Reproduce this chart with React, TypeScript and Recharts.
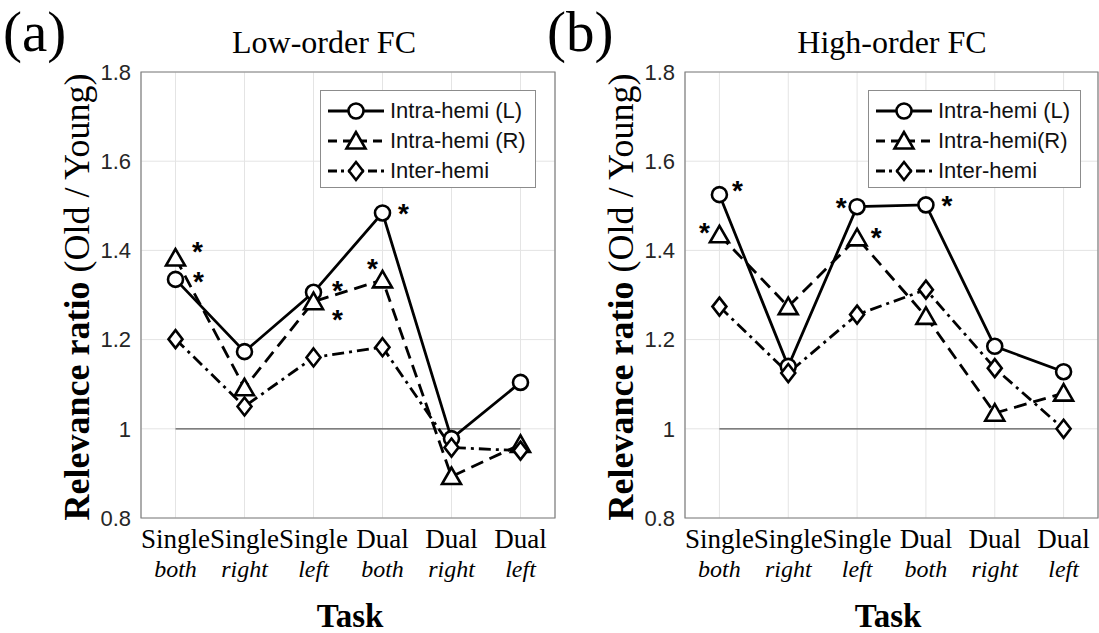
import React from 'react';
import {
  LineChart,
  Line,
  XAxis,
  YAxis,
  CartesianGrid,
  ReferenceLine,
  ReferenceArea,
  LabelList,
} from 'recharts';

// categories
const tasks = ['Single', 'Single', 'Single', 'Dual', 'Dual', 'Dual'];
const sides = ['both', 'right', 'left', 'both', 'right', 'left'];
const yTicks = [0.8, 1, 1.2, 1.4, 1.6, 1.8];

// (a) low-order FC
const lowIntraL = [1.335, 1.173, 1.306, 1.484, 0.978, 1.104];
const lowIntraR = [1.383, 1.092, 1.285, 1.334, 0.893, 0.965];
const lowInter = [1.201, 1.05, 1.16, 1.183, 0.958, 0.951];
const lowSigL = [true, false, true, true, false, false];
const lowSigR = [true, false, true, true, false, false];

// (b) high-order FC
const highIntraL = [1.525, 1.14, 1.498, 1.502, 1.185, 1.128];
const highIntraR = [1.435, 1.274, 1.428, 1.252, 1.035, 1.08];
const highInter = [1.274, 1.125, 1.256, 1.312, 1.136, 1.0];
const highSigL = [true, false, true, true, false, false];
const highSigR = [true, false, true, false, false, false];

const noSig = [false, false, false, false, false, false];

const serif = '"Liberation Serif", "Times New Roman", serif';
const sans = '"Liberation Sans", Arial, sans-serif';

// where each star sits relative to its marker (dx, dy)
const lowStarPos: Record<string, Record<number, [number, number]>> = {
  l: { 0: [23, -3], 2: [24, -7], 3: [21, -5] },
  r: { 0: [22, -12], 2: [24, 12], 3: [-10, -17] },
  inter: {},
};
const highStarPos: Record<string, Record<number, [number, number]>> = {
  l: { 0: [18, -10], 2: [-16, -5], 3: [21, -5] },
  r: { 0: [-15, -8], 2: [19, -6] },
  inter: {},
};

const buildRows = (l: number[], r: number[], inter: number[]) =>
  tasks.map((t, i) => ({ x: i + 1, task: t, side: sides[i], l: l[i], r: r[i], inter: inter[i] }));

const lowData = buildRows(lowIntraL, lowIntraR, lowInter);
const highData = buildRows(highIntraL, highIntraR, highInter);

const MK_STROKE = 2.6;

const CircleMark = ({ cx, cy }: any) => (
  <circle cx={cx} cy={cy} r={7.5} fill="#fff" stroke="#000" strokeWidth={MK_STROKE} />
);
const TriangleMark = ({ cx, cy }: any) => (
  <polygon
    points={`${cx},${cy - 9} ${cx - 9.5},${cy + 7.5} ${cx + 9.5},${cy + 7.5}`}
    fill="#fff"
    stroke="#000"
    strokeWidth={MK_STROKE}
    strokeLinejoin="miter"
  />
);
const DiamondMark = ({ cx, cy }: any) => (
  <polygon
    points={`${cx},${cy - 9} ${cx + 7},${cy} ${cx},${cy + 9} ${cx - 7},${cy}`}
    fill="#fff"
    stroke="#000"
    strokeWidth={MK_STROKE}
  />
);

const XTick = ({ x, y, payload }: any) => {
  const i = payload.value - 1;
  return (
    <g>
      <text x={x} y={y + 30} textAnchor="middle" fontFamily={serif} fontSize={27} fill="#000">
        {tasks[i]}
      </text>
      <text
        x={x}
        y={y + 59}
        textAnchor="middle"
        fontFamily={serif}
        fontStyle="italic"
        fontSize={24}
        fill="#000"
      >
        {sides[i]}
      </text>
    </g>
  );
};

const starRenderer = (sig: boolean[], pos: Record<number, [number, number]>) => (p: any) => {
  const i = p.index;
  if (!sig[i] || !pos[i]) return null;
  const [dx, dy] = pos[i];
  return (
    <text
      key={`star-${i}`}
      x={p.x + dx}
      y={p.y + dy + 15}
      textAnchor="middle"
      fontFamily={sans}
      fontWeight="bold"
      fontSize={28}
      fill="#000"
    >
      *
    </text>
  );
};

const LegendSample = ({ dash, mark }: { dash?: string; mark: 'c' | 't' | 'd' }) => (
  <svg width={62} height={24} style={{ display: 'block' }}>
    <line x1={4} y1={12} x2={60} y2={12} stroke="#000" strokeWidth={2.8} strokeDasharray={dash} />
    {mark === 'c' && <CircleMark cx={32} cy={12} />}
    {mark === 't' && <TriangleMark cx={32} cy={12} />}
    {mark === 'd' && <DiamondMark cx={32} cy={12} />}
  </svg>
);

const DASH = '13 7';
const DASHDOT = '12 5 3 5';

interface PanelProps {
  left: number;
  width: number;
  rightMargin: number;
  data: typeof lowData;
  sigL: boolean[];
  sigR: boolean[];
  starPos: Record<string, Record<number, [number, number]>>;
  legendLeft: number;
  legendWidth: number;
  labelR: string;
}

const Panel = ({
  left,
  width,
  rightMargin,
  data,
  sigL,
  sigR,
  starPos,
  legendLeft,
  legendWidth,
  labelR,
}: PanelProps) => (
  <div style={{ position: 'absolute', left, top: 0, width, height: 633 }}>
    <LineChart width={width} height={633} data={data} margin={{ top: 72, right: rightMargin, bottom: 0, left: 0 }}>
      <CartesianGrid stroke="#e4e4e4" strokeWidth={1} />
      <ReferenceArea x1={0.5} x2={6.5} y1={0.8} y2={1.8} fill="none" stroke="#7f7f7f" strokeWidth={1.2} />
      <ReferenceLine
        segment={[
          { x: 1, y: 1 },
          { x: 6, y: 1 },
        ]}
        stroke="#5a5a5a"
        strokeWidth={1.2}
      />
      <XAxis
        dataKey="x"
        type="number"
        domain={[0.5, 6.5]}
        ticks={[1, 2, 3, 4, 5, 6]}
        allowDataOverflow
        height={115}
        axisLine={false}
        tickLine={false}
        tickSize={0}
        tickMargin={0}
        tick={<XTick />}
        interval={0}
      />
      <YAxis
        type="number"
        domain={[0.8, 1.8]}
        ticks={yTicks}
        allowDataOverflow
        width={141}
        axisLine={false}
        tickLine={false}
        tickSize={0}
        tickMargin={10}
        tick={{ fontFamily: sans, fontSize: 22, fill: '#262626' }}
        tickFormatter={(v: number) => String(Number(v.toFixed(1)))}
        interval={0}
      />
      <Line
        dataKey="l"
        stroke="#000"
        strokeWidth={2.8}
        isAnimationActive={false}
        dot={(p: any) => <CircleMark key={`c-${p.index}`} {...p} />}
      >
        <LabelList dataKey="l" content={starRenderer(sigL, starPos.l)} />
      </Line>
      <Line
        dataKey="r"
        stroke="#000"
        strokeWidth={2.8}
        strokeDasharray={DASH}
        isAnimationActive={false}
        dot={(p: any) => <TriangleMark key={`t-${p.index}`} {...p} />}
      >
        <LabelList dataKey="r" content={starRenderer(sigR, starPos.r)} />
      </Line>
      <Line
        dataKey="inter"
        stroke="#000"
        strokeWidth={2.8}
        strokeDasharray={DASHDOT}
        isAnimationActive={false}
        dot={(p: any) => <DiamondMark key={`d-${p.index}`} {...p} />}
      >
        <LabelList dataKey="inter" content={starRenderer(noSig, starPos.inter)} />
      </Line>
    </LineChart>
    <div
      style={{
        position: 'absolute',
        left: legendLeft,
        top: 90,
        width: legendWidth,
        height: 98,
        border: '1px solid #8c8c8c',
        background: '#fff',
        boxSizing: 'border-box',
        fontFamily: sans,
        fontSize: 22,
        color: '#111',
        paddingTop: 5,
      }}
    >
      {[
        { name: 'Intra-hemi (L)', mark: 'c' as const, dash: undefined },
        { name: labelR, mark: 't' as const, dash: '9 6' },
        { name: 'Inter-hemi', mark: 'd' as const, dash: '9 4 3 4' },
      ].map((e) => (
        <div key={e.name} style={{ display: 'flex', alignItems: 'center', height: 30, marginLeft: 3 }}>
          <LegendSample dash={e.dash} mark={e.mark} />
          <span style={{ marginLeft: 4, lineHeight: '30px', whiteSpace: 'nowrap' }}>{e.name}</span>
        </div>
      ))}
    </div>
  </div>
);

const Labels = ({ off, tag, title, titleX, taskX }: { off: number; tag: string; title: string; titleX: number; taskX: number }) => (
  <g>
    <text x={off + 3} y={51} fontFamily={serif} fontSize={57} fill="#000">
      {tag}
    </text>
    <text x={titleX} y={53} textAnchor="middle" fontFamily={serif} fontSize={32} fill="#000">
      {title}
    </text>
    <text
      x={89 + off}
      y={297}
      textAnchor="middle"
      transform={`rotate(-90, ${89 + off}, 297)`}
      fontFamily={serif}
      fontSize={36}
      fill="#000"
    >
      <tspan fontWeight="bold">Relevance ratio</tspan>
      <tspan> (Old / Young)</tspan>
    </text>
    <text x={taskX} y={627} textAnchor="middle" fontFamily={serif} fontWeight="bold" fontSize={33} fill="#000">
      Task
    </text>
  </g>
);

const App = () => (
  <div style={{ position: 'absolute', left: 0, top: 0, width: 1099, height: 633, background: '#fff' }}>
    <Panel
      left={0}
      width={560}
      rightMargin={5}
      data={lowData}
      sigL={lowSigL}
      sigR={lowSigR}
      starPos={lowStarPos}
      legendLeft={320}
      legendWidth={216}
      labelR="Intra-hemi (R)"
    />
    <Panel
      left={544}
      width={555}
      rightMargin={1}
      data={highData}
      sigL={highSigL}
      sigR={highSigR}
      starPos={highStarPos}
      legendLeft={324}
      legendWidth={213}
      labelR="Intra-hemi(R)"
    />
    <svg
      width={1099}
      height={633}
      style={{ position: 'absolute', left: 0, top: 0, pointerEvents: 'none' }}
    >
      <Labels off={0} tag="(a)" title="Low-order FC" titleX={324} taskX={350} />
      <Labels off={544} tag="(b)" title="High-order FC" titleX={892} taskX={888} />
    </svg>
  </div>
);

export default App;
